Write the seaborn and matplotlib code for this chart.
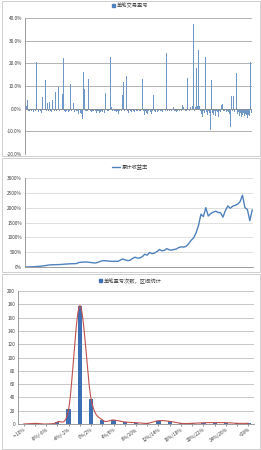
import numpy as np
import pandas as pd
import matplotlib
matplotlib.use("Agg")
import matplotlib.pyplot as plt
from matplotlib.patches import Rectangle, Patch
from matplotlib.lines import Line2D
from matplotlib.ticker import FuncFormatter
import seaborn as sns

# ---------------- data ----------------
trade_pnl = [
    0.8, 1.0, -0.6, 3.8, -0.9, -1.2, -0.7, 1.5, -1.1, -0.8, -1.3, -0.6, -0.9, -1.0, 20.7, -0.7, -1.4, -0.8, 12.6, -0.9,
    -2.0, 5.3, -0.8, -1.1, -0.6, 12.6, -0.9, 2.3, -1.2, -0.7, 3.0, -1.0, -1.3, 3.8, -0.8, -0.6, -1.1, 7.5, -0.9, -1.4,
    -0.7, 9.4, -1.0, -0.8, -1.2, -0.6, 6.3, 22.2, -0.9, -1.5, -0.7, -1.1, -0.8, -1.3, -1.0, -0.9, 10.9, -1.2, -0.7, 2.3,
    -1.0, -1.6, -0.8, -1.2, -0.9, -2.2, -1.1, -0.7, -1.8, -2.5, -4.5, -1.3, 16.0, 8.7, -0.9, -1.2, -0.6, -1.0, 13.0, -0.8,
    -1.1, -0.7, -1.4, -0.9, -1.0, -0.6, -1.2, -0.8, -1.7, -0.9, -1.1, -2.1, -0.7, -1.3, -0.9, -1.5, -0.8, -1.0, -1.9, 6.8,
    -0.8, -1.2, -0.9, -1.4, -0.7, 22.8, 0.6, -1.0, -1.3, -0.8, -1.1, -0.9, -1.6, -0.7, -1.2, -2.3, -1.0, -0.8, -1.4, -0.9,
    6.2, 11.8, -1.1, -0.7, -1.5, 14.4, -1.0, -2.0, -0.8, -1.2, -0.9, -1.3, -0.7, -1.1, -0.9, -1.6, -0.8, -1.0, -1.2, -0.7,
    -1.4, -0.9, -1.1, -0.8, 13.0, 26.3, -1.2, -2.6, -0.9, -1.7, -1.3, -2.4, -1.0, -0.8, -1.5, 14.4, -2.2, -1.1, 6.0, -0.9,
    -1.6, -2.3, -0.8, -1.3, -1.0, -0.7, 5.3, -1.2, -0.9, -1.4, -0.8, -1.1, -0.6, -1.0, 24.4, -0.9, -1.3, -0.7, -1.2, -0.8,
    -1.0, -0.6, 10.1, 0.8, -1.1, -0.9, -1.4, -0.7, -1.2, -0.8, -1.0, -0.6, 0.5, -0.9, 1.6, 0.7, -0.8, -1.1, -0.7, -0.9,
    13.7, -0.8, -1.0, -0.6, 0.9, -0.7, 1.2, 37.2, 1.5, -0.9, 0.8, 18.0, 1.3, -0.8, 26.0, 1.0, -1.1, -2.5, -3.5, -1.4,
    -0.9, -2.0, 22.6, -1.3, -0.8, -2.8, -1.1, -1.7, -9.5, -1.0, 12.5, -1.9, -2.7, -1.2, -3.2, -2.1, -0.9, -1.5, -3.6, -1.0,
    -0.8, -1.3, 1.4, 2.0, -0.9, 25.1, -1.2, -0.7, -1.6, -1.0, -0.8, -1.4, -2.2, -8.0, 5.7, -1.1, -0.9, 5.7, -1.3, -0.8,
    15.7, -1.0, -2.4, -1.6, -3.1, -2.0, -1.4, -3.8, -2.6, -1.8, -3.3, -2.2, -1.5, -3.0, -4.1, -2.7, -3.4, -4.7, 20.6, -1.9,
]

cum_return = [
    0, 2, 5, 8, 12, 18, 25, 33, 45, 55, 70, 75, 78, 80, 83, 86, 95, 100, 105, 110,
    112, 115, 150, 160, 165, 170, 160, 150, 140, 135, 165, 195, 215, 210, 200, 195, 190, 195, 190, 230,
    270, 240, 215, 225, 290, 330, 300, 305, 350, 430, 400, 490, 450, 470, 520, 590, 545, 560, 620, 580,
    570, 590, 610, 660, 680, 670, 700, 790, 900, 980, 1150, 1400, 1780, 1700, 2000, 1720, 1800, 1850, 1880, 1840,
    1830, 1680, 1900, 2060, 1980, 2050, 2080, 2120, 2200, 2420, 2000, 1940, 1560, 1930,
]

bins = ["<-10%", "-10%/-8%", "-8%/-6%", "-6%/-4%", "-4%/-2%", "-2%/0%", "0%/2%", "2%/4%",
        "4%/6%", "6%/8%", "8%/10%", "10%/12%", "12%/14%", "14%/16%", "16%/18%", "18%/20%",
        "20%/22%", "22%/24%", "24%/26%", "26%/28%", ">28%"]
bin_counts = [0, 1, 0, 3, 22, 178, 38, 6, 6, 3, 2, 1, 5, 4, 1, 1, 2, 2, 2, 1, 1]

title1 = "单笔交易盈亏"
title2 = "累计收益率"
title3 = "单笔盈亏次数，区间统计"

# ---------------- style ----------------
sns.set_theme(style="white")
plt.rcParams["font.family"] = ["Noto Sans CJK SC", "DejaVu Sans"]
BLUE = "#4F81BD"
BAR1 = "#6F97C8"
BAR3 = "#3E6FB5"
RED = "#C0504D"
TXT = "#404040"
FS = 3.4

W, H = 261, 450
fig = plt.figure(figsize=(W / 100, H / 100), dpi=100)

def px_axes(x0, y0, x1, y1):
    return fig.add_axes([x0 / W, 1 - y1 / H, (x1 - x0) / W, (y1 - y0) / H])

# panel borders
for (y0, y1) in [(1, 156), (158, 272), (274, 449)]:
    fig.patches.append(Rectangle((1.5 / W, 1 - y1 / H), (W - 3) / W, (y1 - y0) / H,
                                 transform=fig.transFigure, fill=False,
                                 edgecolor="#c8c8c8", linewidth=0.6))

def style_axes(ax, gridcolor):
    for s in ["top", "right", "bottom"]:
        ax.spines[s].set_visible(False)
    ax.spines["left"].set_color("#8c8c8c")
    ax.spines["left"].set_linewidth(0.6)
    ax.yaxis.grid(True, color=gridcolor, linewidth=0.6)
    ax.set_axisbelow(True)
    ax.tick_params(axis="y", labelsize=FS, colors=TXT, length=1.2, width=0.4, pad=1)

# ---------------- panel 1 ----------------
ax1 = px_axes(25, 18, 252, 154)
df1 = pd.DataFrame({"idx": np.arange(len(trade_pnl)), "pnl": trade_pnl})
sns.barplot(data=df1, x="idx", y="pnl", native_scale=True, width=1.0, color=BAR1,
            saturation=1, linewidth=0, errorbar=None, ax=ax1)
ax1.set_xlim(-0.5, len(trade_pnl) - 0.5)
ax1.set_ylim(-20, 40)
ax1.set_yticks(np.arange(-20, 41, 10))
ax1.yaxis.set_major_formatter(FuncFormatter(lambda v, p: f"{v:.1f}%"))
style_axes(ax1, "#a6a6a6")
ax1.axhline(0, color="#8c8c8c", linewidth=0.6)
ax1.set_xticks([])
ax1.set_xlabel("")
ax1.set_ylabel("")
ax1.legend(handles=[Patch(color=BLUE)], labels=[title1], loc="center",
           bbox_to_anchor=(130 / W, 1 - 6 / H), bbox_transform=fig.transFigure,
           frameon=False, fontsize=FS + 0.4, handlelength=0.5, handleheight=0.5,
           handletextpad=0.3, labelcolor=TXT)

# ---------------- panel 2 ----------------
ax2 = px_axes(25, 178, 253, 267)
df2 = pd.DataFrame({"i": np.arange(len(cum_return)), "r": cum_return})
sns.lineplot(data=df2, x="i", y="r", color=BLUE, linewidth=1.0, ax=ax2)
ax2.set_xlim(0, len(cum_return) - 0.7)
ax2.set_ylim(0, 3000)
ax2.set_yticks(np.arange(0, 3001, 500))
ax2.yaxis.set_major_formatter(FuncFormatter(lambda v, p: f"{v:.0f}%"))
style_axes(ax2, "#d9d9d9")
ax2.spines["bottom"].set_visible(True)
ax2.spines["bottom"].set_color("#8c8c8c")
ax2.spines["bottom"].set_linewidth(0.6)
ax2.set_xticks([])
ax2.set_xlabel("")
ax2.set_ylabel("")
ax2.legend(handles=[Line2D([0], [0], color=BLUE, linewidth=1.0)], labels=[title2], loc="center",
           bbox_to_anchor=(130 / W, 1 - 167 / H), bbox_transform=fig.transFigure,
           frameon=False, fontsize=FS + 0.4, handlelength=1.6, handletextpad=0.4, labelcolor=TXT)

# ---------------- panel 3 ----------------
ax3 = px_axes(18, 291, 254, 424)
df3 = pd.DataFrame({"bin": bins, "n": bin_counts})
sns.barplot(data=df3, x="bin", y="n", width=0.38, color=BAR3, saturation=1,
            linewidth=0, errorbar=None, ax=ax3)
# smoothed (Catmull-Rom) line through the counts, like Excel's smoothed line
px = np.arange(len(bin_counts), dtype=float)
py = np.asarray(bin_counts, dtype=float)
P = np.column_stack([px, py])
Pext = np.vstack([P[0] - (P[1] - P[0]), P, P[-1] + (P[-1] - P[-2])])
t = np.linspace(0, 1, 25)[:, None]
curve = []
for i in range(1, len(Pext) - 2):
    p0, p1, p2, p3 = Pext[i - 1], Pext[i], Pext[i + 1], Pext[i + 2]
    seg = 0.5 * ((2 * p1) + (-p0 + p2) * t + (2 * p0 - 5 * p1 + 4 * p2 - p3) * t ** 2
                 + (-p0 + 3 * p1 - 3 * p2 + p3) * t ** 3)
    curve.append(seg)
curve = np.vstack(curve)
ax3.plot(curve[:, 0], curve[:, 1], color=RED, linewidth=0.8)
ax3.set_xlim(-0.5, len(bins) - 0.5)
ax3.set_ylim(0, 200)
ax3.set_yticks(np.arange(0, 201, 20))
style_axes(ax3, "#bfbfbf")
ax3.spines["bottom"].set_visible(True)
ax3.spines["bottom"].set_color("#8c8c8c")
ax3.spines["bottom"].set_linewidth(0.6)
ax3.set_xticks(np.arange(len(bins)))
ax3.set_xticklabels([b if i % 2 == 0 else "" for i, b in enumerate(bins)],
                    rotation=35, ha="right", rotation_mode="anchor")
ax3.tick_params(axis="x", labelsize=FS, colors=TXT, length=1.2, width=0.4, pad=1,
                bottom=True)
ax3.set_xlabel("")
ax3.set_ylabel("")
ax3.legend(handles=[Patch(color=BAR3)], labels=[title3], loc="center",
           bbox_to_anchor=(130 / W, 1 - 281 / H), bbox_transform=fig.transFigure,
           frameon=False, fontsize=FS + 0.4, handlelength=0.5, handleheight=0.5,
           handletextpad=0.3, labelcolor=TXT)

fig.savefig("out.png", dpi=100, facecolor="white")
